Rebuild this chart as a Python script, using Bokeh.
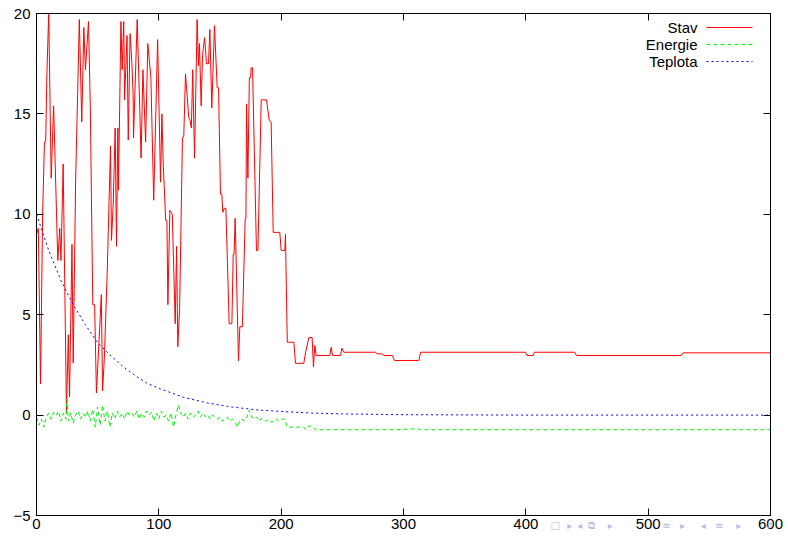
from bokeh.plotting import figure
from bokeh.models import Arrow, Label, LinearAxis, FixedTicker, Range1d
from bokeh.embed import file_html
from bokeh.resources import INLINE

# ---------------- data ----------------
x_ticks = [0, 100, 200, 300, 400, 500, 600]
y_ticks = [-5, 0, 5, 10, 15, 20]

stav_x = [0, 1.5, 3.3, 5, 6.5, 7.5, 8.5, 10, 12, 14, 17.4, 19, 20, 21.8, 24.5, 26, 27, 29, 30, 32,
          35, 37, 38.7, 40, 42.5, 44, 46, 47.5, 49, 53, 54, 55.5, 57.8, 60.5, 61.3, 62.7, 64.3, 65.4,
          66.5, 67, 69, 70, 71.3, 72, 74, 75, 76.5, 78, 79, 79.3, 82.3, 84, 85.5, 87, 89.2, 91, 93.5,
          95.8, 99, 101.4, 102.5, 103.6, 105.6, 106.6, 107.4, 109, 111, 113.4, 114.5, 115.5, 117,
          119.3, 120.4, 121.8, 124.5, 125.5, 126.6, 127.7, 129.2, 131.3, 132.4, 133.2, 134.6, 135.7,
          137.4, 139, 140.6, 141.7, 143.3, 145.5, 147.7, 148.8, 150.4, 151.5, 152.3, 153.5, 154.8,
          157.5, 159.7, 160.8, 161.5, 162.4, 165.1, 166.2, 168.3, 170.6, 171.2, 171.7, 172.8, 174,
          175, 175.5, 176.6, 179.8, 181, 183.7, 188, 190.2, 191.8, 193.5, 198.9, 200, 203, 203.5,
          205, 210.4, 211.7, 218.5, 220, 222.6, 225.3, 226.4, 227.5, 228.6, 239.8, 240.9, 242, 248.5,
          249.6, 251.2, 277.1, 278.5, 282.5, 283.9, 290.8, 292.7, 312.5, 314, 399.7, 401, 406, 407,
          439.8, 441.5, 527, 528.7, 600]
stav_y = [9.0, 9.3, 1.55, 10.0, 13.6, 13.6, 17.0, 20.0, 11.8, 15.4, 7.7, 9.3, 7.7, 12.5, 0.1, 4.0,
          0.9, 8.5, 2.6, 11.7, 19.7, 14.6, 19.3, 17.2, 19.6, 15.3, 5.5, 5.5, 1.1, 6.0, 1.2, 2.9, 7.1,
          13.4, 8.7, 10.5, 14.3, 8.4, 14.3, 11.2, 19.6, 17.2, 19.6, 15.7, 18.9, 13.7, 19.0, 17.5, 15.9,
          13.8, 19.7, 16.1, 12.8, 17.2, 13.6, 18.5, 16.8, 10.7, 18.7, 11.6, 15.0, 12.5, 9.7, 9.7, 5.5,
          10.2, 10.0, 4.55, 8.4, 3.4, 5.3, 13.8, 13.9, 17.0, 14.8, 14.7, 14.3, 17.2, 12.8, 19.7, 17.4,
          18.5, 15.4, 17.9, 18.8, 17.5, 17.5, 19.2, 15.3, 19.4, 16.3, 16.3, 11.0, 11.0, 10.1, 10.3,
          10.3, 4.55, 4.55, 8.0, 8.0, 9.8, 2.7, 4.4, 4.4, 9.8, 9.8, 15.5, 11.8, 16.8, 16.8, 17.3, 17.3,
          8.2, 8.2, 15.7, 15.7, 14.7, 14.6, 9.1, 9.1, 8.2, 8.2, 9.0, 3.63, 3.63, 2.58, 2.58, 3.13,
          3.86, 3.86, 2.39, 3.47, 2.97, 2.97, 3.38, 2.97, 2.97, 3.33, 3.13, 3.13, 3.05, 3.05, 2.97,
          2.97, 2.72, 2.72, 3.13, 3.13, 2.97, 2.97, 3.13, 3.13, 2.97, 2.97, 3.1, 3.1]

energie_x = [0, 2, 4, 6, 8, 10, 12, 14, 16, 18, 20, 22, 24, 25, 26, 28, 30, 32, 34, 36, 38, 40,
             42, 44, 46, 48, 50, 52, 54, 56, 58, 60, 62, 64, 66, 68, 70, 72, 74, 76, 78, 80, 82,
             84, 86, 88, 90, 92, 94, 96, 98, 100, 102, 104, 106, 108, 110, 112, 114, 116, 118,
             120, 122, 124, 126, 128, 130, 132, 134, 136, 138, 140, 142, 144, 146, 148, 150, 152,
             154, 156, 158, 160, 162, 164, 166, 168, 170, 172, 174, 176, 178, 180, 182, 184, 186,
             188, 190, 192, 194, 196, 198, 200, 203, 205, 218.5, 220, 222.6, 225.3, 228, 292,
             312, 314, 600]
energie_y = [-0.1, -0.5, -0.2, -0.6, -0.1, 0.1, -0.2, 0.15, 0.0, 0.2, -0.3, 0.1, -0.2, 0.8, -0.3,
             0.1, -0.4, 0.0, 0.2, -0.2, 0.1, -0.1, 0.2, -0.3, 0.3, -0.6, 0.4, -0.5, 0.5, -0.3, 0.2,
             -0.6, 0.1, -0.2, 0.2, -0.1, 0.1, -0.2, 0.2, 0.0, 0.1, -0.1, 0.2, -0.2, 0.1, -0.1, 0.2,
             0.0, 0.15, -0.3, 0.1, -0.2, 0.2, -0.1, 0.0, -0.3, 0.1, -0.6, 0.0, 0.5, 0.1, -0.1, 0.1,
             -0.2, 0.1, -0.1, 0.0, 0.2, -0.1, 0.1, -0.1, 0.0, -0.2, 0.0, -0.1, -0.2, -0.1, -0.3,
             -0.2, -0.1, -0.3, -0.2, -0.3, -0.6, -0.3, -0.2, -0.3, -0.1, 0.25, -0.1, -0.2, -0.1,
             -0.3, -0.15, -0.25, -0.3, -0.2, -0.35, -0.3, -0.2, -0.3, -0.2, -0.2, -0.6, -0.6,
             -0.73, -0.55, -0.55, -0.73, -0.73, -0.68, -0.73, -0.73]

teplota_x = [0, 10, 20, 30, 40, 50, 60, 70, 80, 90, 100, 120, 140, 160, 180, 200, 225, 250, 300,
             400, 600]
teplota_y = [10.0, 8.2, 6.7, 5.5, 4.5, 3.6, 3.0, 2.45, 2.0, 1.6, 1.33, 0.89, 0.6, 0.4, 0.26, 0.18,
             0.1, 0.06, 0.02, 0.0, 0.0]

series_names = ["Stav", "Energie", "Teplota"]
series_colors = ["#ff0000", "#00ee00", "#0000ff"]
series_dashes = ["solid", "4 3", "2 3"]

# beamer navigation symbols along the bottom edge (positions in x-axis units)
nav_symbols = ["\u25a1", "\u25b8", "\u25c2", "\u29c9", "\u25b8", "\u2261", "\u25b8",
               "\u25c2", "\u2261", "\u25b8", "\u21ba"]
nav_at = [424, 436, 444, 454, 469, 515, 528, 545, 558, 574, 599]

FONT = "Liberation Sans"

# ---------------- figure ----------------
p = figure(width=788, height=538, output_backend="svg", toolbar_location=None,
           x_range=Range1d(0, 600), y_range=Range1d(-5, 20),
           min_border_left=36, min_border_right=18, min_border_top=13, min_border_bottom=23,
           x_axis_location=None, y_axis_location=None)
p.grid.visible = False
p.outline_line_color = "black"
p.outline_line_width = 1
p.background_fill_color = "white"
p.border_fill_color = "white"


def style_axis(ax, ticks, show_labels):
    ax.ticker = FixedTicker(ticks=ticks)
    ax.major_tick_in = 7
    ax.major_tick_out = 0
    ax.minor_tick_line_color = None
    ax.axis_line_color = "black"
    ax.major_tick_line_color = "black"
    ax.major_label_text_font = FONT
    if show_labels:
        ax.major_label_text_color = "black"
        ax.major_label_text_font_size = "15px"
        ax.major_label_standoff = 3
    else:
        ax.major_label_text_color = None
        ax.major_label_text_font_size = "1px"
        ax.major_label_standoff = 0


bottom = LinearAxis()
style_axis(bottom, x_ticks, True)
left = LinearAxis()
style_axis(left, y_ticks, True)
left.major_label_standoff = 6
top = LinearAxis()
style_axis(top, x_ticks, False)
right = LinearAxis()
style_axis(right, y_ticks, False)

# a tick-less axis that only carries the faint navigation symbols, tucked under the numbers
nav_axis = LinearAxis(ticker=FixedTicker(ticks=nav_at),
                      major_label_overrides={t: s for t, s in zip(nav_at, nav_symbols)})
nav_axis.axis_line_color = None
nav_axis.major_tick_line_color = None
nav_axis.minor_tick_line_color = None
nav_axis.major_tick_in = 0
nav_axis.major_tick_out = 0
nav_axis.major_label_standoff = -12
nav_axis.major_label_text_font = "DejaVu Sans"
nav_axis.major_label_text_font_size = "10px"
nav_axis.major_label_text_color = "#b8bede"

p.add_layout(bottom, "below")
p.add_layout(nav_axis, "below")
p.add_layout(left, "left")
p.add_layout(top, "above")
p.add_layout(right, "right")

p.line(stav_x, stav_y, line_color=series_colors[0], line_width=1, line_dash=series_dashes[0])
p.line(energie_x, energie_y, line_color=series_colors[1], line_width=1, line_dash=series_dashes[1])
p.line(teplota_x, teplota_y, line_color=series_colors[2], line_width=1, line_dash=series_dashes[2])

# gnuplot-style key: label right-aligned, sample line to its right
for i, (name, col, dash) in enumerate(zip(series_names, series_colors, series_dashes)):
    ys = 488 - 17 * i
    p.add_layout(Label(x=661, y=ys, x_units="screen", y_units="screen", text=name,
                       text_align="right", text_baseline="middle",
                       text_font=FONT, text_font_size="15px", text_color="black"))
    p.add_layout(Arrow(end=None, start=None, x_start=670, y_start=ys, x_end=716, y_end=ys,
                       start_units="screen", end_units="screen",
                       line_color=col, line_width=1, line_dash=dash))

open("out.html", "w").write(file_html(p, INLINE))
